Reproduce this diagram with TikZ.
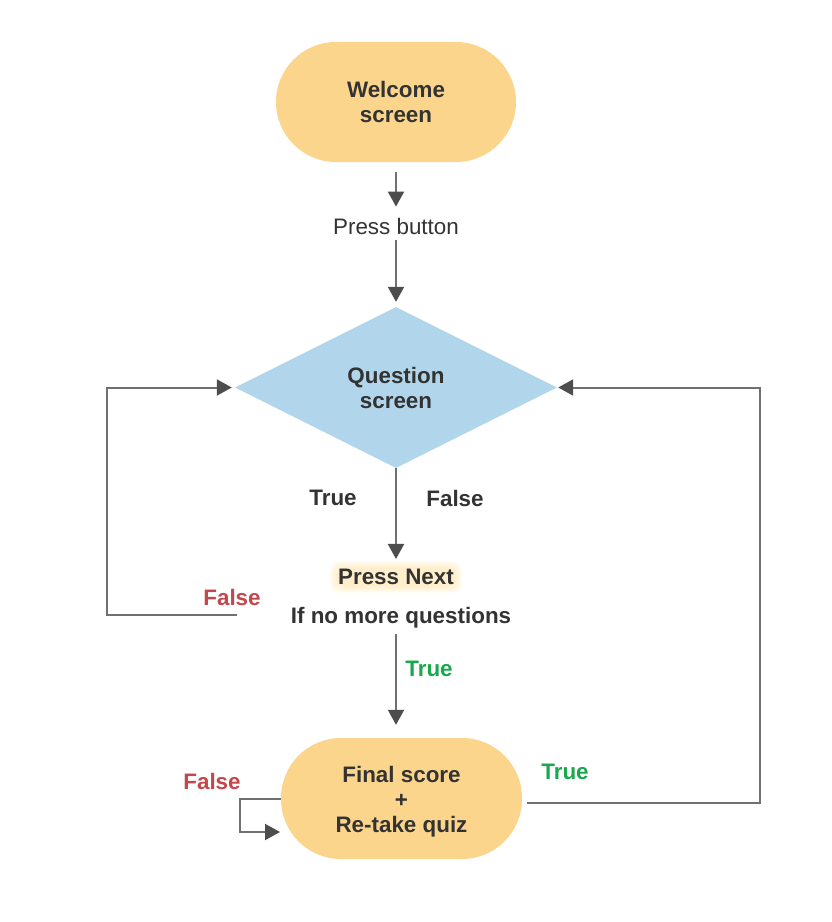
\documentclass[tikz,border=0pt]{standalone}
\usepackage{fontspec}
\setmainfont{Liberation Sans}
\usetikzlibrary{shapes.geometric, arrows.meta, backgrounds}
\definecolor{sand}{RGB}{252, 213, 140}
\definecolor{sky}{RGB}{177, 214, 236}
\definecolor{ink}{RGB}{51, 51, 51}
\definecolor{wire}{RGB}{112, 112, 112}
\definecolor{tip}{RGB}{77, 77, 77}
\definecolor{nope}{RGB}{196, 72, 75}
\definecolor{yes}{RGB}{25, 168, 76}
\definecolor{glow}{RGB}{255, 215, 110}

\begin{document}
\begin{tikzpicture}[x=1pt, y=-1pt,
  every node/.style={font=\fontsize{22.4}{25}\selectfont\bfseries, text=ink, align=center, inner sep=1pt},
  pill/.style={rectangle, fill=sand, rounded corners=60pt, minimum width=240pt, minimum height=120pt},
  flow/.style={wire, line width=2, -{Triangle[length=15pt, width=16pt, color=tip]}}]
  \useasboundingbox (0, 0) rectangle (832, 922);

  \node[pill] (welcome) at (396, 102) {Welcome\\screen};
  \node[font=\fontsize{22.4}{25}\selectfont] (press) at (396, 226) {Press button};
  \node[diamond, aspect=2, fill=sky, minimum width=322pt, minimum height=161pt, inner sep=0pt]
    (question) at (396, 387.5) {Question\\screen};

  \node (truel) at (333, 498) {True};
  \node (falsel) at (455, 498) {False};

  \node (next) at (396, 577) {Press Next};
  \node (nomore) at (401, 618) {If no more questions};
  \node[text=nope] (falsea) at (232, 597) {False};
  \node[text=yes] (truea) at (429, 669) {True};

  \node[pill, minimum width=241pt, minimum height=121pt] (final) at (401.5, 798.5) {\rule{0pt}{22pt}Final score\\+\\Re-take quiz};
  \node[text=yes] (trueb) at (565, 772) {True};
  \node[text=nope] (falseb) at (212, 781) {False};

  \coordinate (leftend) at (237, 615);
  \coordinate (rightend) at (527, 803);
  \coordinate (loopin) at (280, 832);

  % main line
  \draw[flow, shorten <=10pt, shorten >=10pt] (welcome) -- (press);
  \draw[flow, shorten <=5pt, shorten >=5pt] (press) -- (question);
  \draw[flow, shorten >=9pt] (question) -- (question.south |- next.north);
  \draw[flow, shorten <=4pt, shorten >=13pt] (question.south |- nomore.south) -- (question.south |- final.north);

  % loops back
  \draw[flow, shorten >=3pt] (leftend) -- ++(-130, 0) |- (question.west);
  \draw[flow, shorten >=1pt] (rightend) -- ++(233, 0) |- (question.east);
  \draw[flow] (final.west) -- ++(-41, 0) |- (loopin);

  \begin{scope}[on background layer]
    \fill[white] (0, 0) rectangle (832, 922);
    \foreach \g in {0,...,7}
      \fill[glow, opacity=0.05, rounded corners=9pt]
        ([shift={(-\g, \g)}]next.south west) rectangle ([shift={(\g, -\g)}]next.north east);
  \end{scope}
\end{tikzpicture}
\end{document}
